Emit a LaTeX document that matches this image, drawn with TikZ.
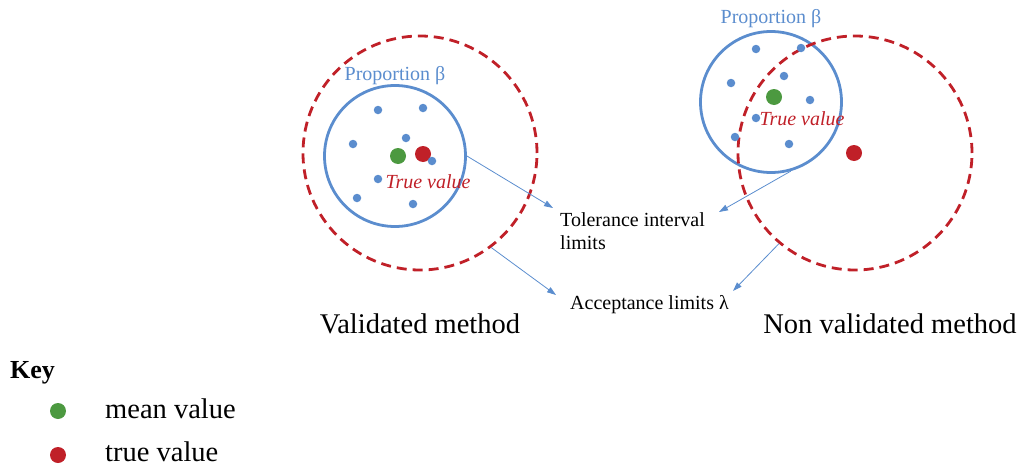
\documentclass[tikz,border=0pt]{standalone}
\usepackage{fontspec}
\setmainfont{Liberation Serif}
\usetikzlibrary{arrows.meta}
\definecolor{ringblue}{RGB}{91,141,206}
\definecolor{truered}{RGB}{192,32,40}
\definecolor{meangreen}{RGB}{76,153,64}
\tikzset{
  ring/.style={circle, draw=ringblue, line width=2.8pt, minimum size=#1, inner sep=0pt},
  limit/.style={circle, draw=truered, line width=2.8pt, dash pattern=on 10pt off 6pt, minimum size=#1, inner sep=0pt},
  sample/.style={circle, fill=ringblue, minimum size=8.5pt, inner sep=0pt},
  meanpt/.style={circle, fill=meangreen, minimum size=16pt, inner sep=0pt},
  truept/.style={circle, fill=truered, minimum size=16pt, inner sep=0pt},
  pointer/.style={draw=ringblue, line width=0.8pt, -{Triangle[length=9pt,width=6pt]}},
  lbl/.style={inner sep=0pt, font=\fontsize{20}{23}\selectfont},
  title/.style={inner sep=0pt, font=\fontsize{28.5}{32}\selectfont},
}
\begin{document}
\begin{tikzpicture}[x=1pt, y=-1pt]
\useasboundingbox (0,0) rectangle (1021,466);

% validated method
\node[limit=234] (lacc) at (420,153) {};
\node[ring=141] (ltol) at (395,156) {};
\node[meanpt] (lmean) at (398,156) {};
\node[truept] (ltrue) at (423,154) {};
\foreach \p [count=\i] in {(378,110),(423,108),(353,144),(406,138),(432,161),(378,179),(357,198),(413,204)}
  \node[sample] (ls\i) at \p {};
\node[lbl, text=ringblue, anchor=base] (lprop) at (395,80) {Proportion β};
\node[lbl, text=truered, anchor=base, font=\fontsize{20}{24}\selectfont\itshape] (ltruelbl) at (428,188) {True value};

% non validated method
\node[ring=141] (rtol) at (771,102) {};
\node[limit=234] (racc) at (855,153) {};
\node[meanpt] (rmean) at (774,97) {};
\node[truept] (rtrue) at (854,153) {};
\foreach \p [count=\i] in {(756,49),(801,48),(731,83),(784,76),(810,100),(756,118),(735,137),(789,144)}
  \node[sample] (rs\i) at \p {};
\node[lbl, text=ringblue, anchor=base] (rprop) at (771,23) {Proportion β};
\node[lbl, text=truered, anchor=base, font=\fontsize{20}{24}\selectfont\itshape] (rtruelbl) at (802,125) {True value};

% limits
\node[lbl, anchor=base west, align=left] (tol) at (560,249) {Tolerance interval\\limits};
\node[lbl, anchor=base west] (acc) at (570,309) {Acceptance limits λ};
\coordinate (tolL) at (553,208);
\coordinate (tolR) at (719,212);
\coordinate (accL) at (556,295);
\coordinate (accR) at (733,291);
\draw[pointer] (ltol.east) -- (tolL);
\draw[pointer] (rtol.-74) -- (tolR);
\draw[pointer] (lacc.-53) -- (accL);
\draw[pointer] (racc.-130) -- (accR);

\node[title, anchor=base] (lname) at (420,333) {Validated method};
\node[title, anchor=base] (rname) at (890,333) {Non validated method};

% key
\node[title, anchor=base west, font=\fontsize{26}{30}\selectfont\bfseries] (key) at (10,378) {Key};
\node[meanpt] (kmean) at (58,411) {};
\node[truept] (ktrue) at (58,455) {};
\node[title, anchor=base west] (kmeanlbl) at (105,418) {mean value};
\node[title, anchor=base west] (ktruelbl) at (105,461) {true value};
\end{tikzpicture}
\end{document}
